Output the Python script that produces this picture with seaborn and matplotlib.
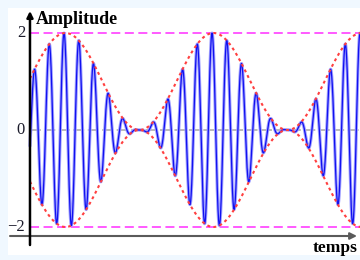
import numpy as np
import pandas as pd
import matplotlib
matplotlib.use("Agg")
import matplotlib.pyplot as plt
import seaborn as sns
from matplotlib.patches import Rectangle

# ---- chart data (amplitude-modulated signal, m = 1) ----
carrier_amplitude = 1.0
modulation_depth = 1.0
carrier_cycles_per_beat = 10
carrier_phase_offset = -0.01            # beat periods
t_start, t_end = -0.240, 2.01           # time span (beat periods)
y_ticks = [2, 0, -2]
y_tick_labels = ["2", "0", "\u22122"]
ref_levels = [2, -2]
y_label = "Amplitude"
x_label = "temps"

sns.set_theme(style="white")
plt.rcParams["font.family"] = ["Liberation Serif", "DejaVu Serif"]

X0, PX = 65.5, 148.0   # pixel mapping helpers for layout
t = np.linspace(t_start, t_end, 4000)
envelope = carrier_amplitude * (1 + modulation_depth * np.cos(2 * np.pi * t))
signal = envelope * np.cos(2 * np.pi * carrier_cycles_per_beat * (t - carrier_phase_offset))
df = pd.DataFrame({"t": t, "s": signal, "env_up": envelope, "env_dn": -envelope})

fig = plt.figure(figsize=(3.6, 2.6), dpi=100, facecolor="#F0F8FF")
ax = fig.add_axes([0, 0, 1, 1])
x_lo, x_hi = -X0 / PX, (360 - X0) / PX
ax.set_xlim(x_lo, x_hi)
ax.set_ylim(-130 / 48.5, 130 / 48.5)
ax.axis("off")

# white panel
ax.add_patch(Rectangle((8 / 360, 5 / 260), 1, 247 / 260, transform=ax.transAxes,
                       facecolor="white", edgecolor="none", zorder=0))

# zero line and reference levels
ax.plot([t_start, x_hi], [0, 0], color="#b4b4b4", lw=1.3, dashes=(6, 2), zorder=1)
for lv in ref_levels:
    ax.plot([t_start, x_hi], [lv, lv], color="#ff4dff", lw=1.3, dashes=(5, 2.5), zorder=1)

# signal
sns.lineplot(data=df, x="t", y="s", ax=ax, color="#a0a0ff", lw=2.3, estimator=None, sort=False, zorder=2)
sns.lineplot(data=df, x="t", y="s", ax=ax, color="#1010f0", lw=0.9, estimator=None, sort=False, zorder=3)
# envelope
for col in ["env_up", "env_dn"]:
    sns.lineplot(data=df, x="t", y=col, ax=ax, color="#ff4040", lw=1.5,
                 estimator=None, sort=False, zorder=4)
for ln in ax.lines[-2:]:
    ln.set_dashes((1.4, 1.6))

# axes with arrows
x_axis_y = (130 - 236) / 48.5
ax.annotate("", xy=((357 - X0) / PX, x_axis_y), xytext=((10 - X0) / PX, x_axis_y),
            arrowprops=dict(arrowstyle="-|>", color="#5a5a5a", lw=1.5, mutation_scale=10,
                            shrinkA=0, shrinkB=0), zorder=5)
ax.annotate("", xy=(t_start, (130 - 11) / 48.5), xytext=(t_start, (130 - 245) / 48.5),
            arrowprops=dict(arrowstyle="-|>", color="black", lw=1.8, mutation_scale=9,
                            shrinkA=0, shrinkB=0), zorder=6)

for v, lab in zip(y_ticks, y_tick_labels):
    ax.text((25 - X0) / PX, v, lab, ha="right", va="center", fontsize=12, color="#1a1a2a")

fig.text(36 / 360, 1 - 24 / 260, y_label, ha="left", va="baseline", fontsize=13,
         fontweight="bold", color="black")
fig.text(358 / 360, 1 - 252 / 260, x_label, ha="right", va="baseline", fontsize=12.5,
         fontweight="bold", color="black")

fig.savefig("out.png", dpi=100, facecolor=fig.get_facecolor())
